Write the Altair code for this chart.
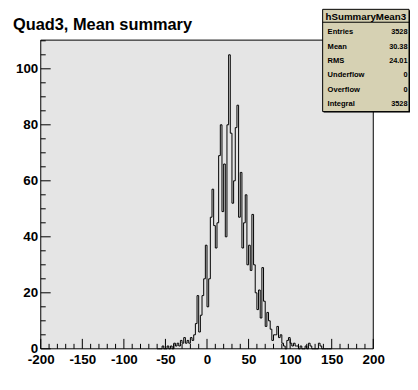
import altair as alt
import pandas as pd

# ---- data (2-unit bins) ----
first_edge = -60
bin_width = 2
left_counts = [0, 0, 0, 1, 0, 0, 1, 0, 1, 0, 2, 1, 2, 1, 3, 2, 4, 2, 3, 2, 4, 3, 5]
core_counts = [9, 19, 6, 12, 19, 25, 37, 15, 25, 47, 57, 44, 36, 45, 69, 80, 49, 66, 40, 80,
               105, 77, 52, 60, 79, 87, 47, 63, 36, 45, 55, 30, 37, 28, 48, 30, 20, 14, 21, 11,
               29, 17, 8, 13, 10, 7, 3, 5, 5, 8, 4, 5, 2, 1, 0, 3, 4, 2, 1, 2,
               1, 1, 0, 1, 0, 0, 1, 0, 2, 1, 0, 0, 0, 0, 2, 1, 0, 0, 0, 0, 0, 0]
counts = left_counts + core_counts
edges = [first_edge + bin_width * i for i in range(len(counts))]

x_major = list(range(-200, 201, 50))
x_minor = [v for v in range(-190, 200, 10) if v % 50 != 0]
y_major = [0, 20, 40, 60, 80, 100]
y_minor = [v for v in range(5, 111, 5) if v % 20 != 0]
Y_MAX = 110.25

title_text = "Quad3, Mean summary"
stats_name = "hSummaryMean3"
stat_labels = ["Entries", "Mean", "RMS", "Underflow", "Overflow", "Integral"]
stat_values = ["3528", "30.38", "24.01", "0", "0", "3528"]

# ---- layout ----
W, H = 335, 311
FONT = "Liberation Sans"
BG = "#e5e5e5"
BOX = "#d6d1b3"

xscale = alt.Scale(domain=[-200, 200], nice=False, zero=False)
yscale = alt.Scale(domain=[0, Y_MAX], nice=False, zero=True)

axis_common = dict(
    ticks=False, domain=False, grid=False, title=None,
    labelFont=FONT, labelFontWeight="bold", labelFontSize=13.5, labelColor="black",
    labelOverlap=False,
)
x_axis = alt.Axis(values=x_major, labelExpr="'' + datum.value",
                  labelFlush=False, labelPadding=4, **axis_common)
y_axis = alt.Axis(values=y_major, labelExpr="'' + datum.value",
                  labelPadding=3, **axis_common)

hist_df = pd.DataFrame({"x": edges + [edges[-1] + bin_width], "n": counts + [0]})
one = pd.DataFrame({"a": [0]})

frame = alt.Chart(one).mark_rect(fill=BG, stroke="black", strokeWidth=1).encode(
    x=alt.value(0), x2=alt.value(W), y=alt.value(0), y2=alt.value(H)
)

hist = alt.Chart(hist_df).mark_line(
    interpolate="step-after", color="black", strokeWidth=1
).encode(
    x=alt.X("x:Q", scale=xscale, axis=x_axis),
    y=alt.Y("n:Q", scale=yscale, axis=y_axis),
)

xmin_ticks = alt.Chart(pd.DataFrame({"x": x_minor})).mark_rule(color="black", strokeWidth=1).encode(
    x=alt.X("x:Q", scale=xscale, axis=x_axis), y=alt.value(H), y2=alt.value(H - 5)
)
xmaj_ticks = alt.Chart(pd.DataFrame({"x": x_major})).mark_rule(color="black", strokeWidth=1).encode(
    x=alt.X("x:Q", scale=xscale, axis=x_axis), y=alt.value(H), y2=alt.value(H - 10)
)
ymin_ticks = alt.Chart(pd.DataFrame({"n": y_minor})).mark_rule(color="black", strokeWidth=1).encode(
    y=alt.Y("n:Q", scale=yscale, axis=y_axis), x=alt.value(0), x2=alt.value(5)
)
ymaj_ticks = alt.Chart(pd.DataFrame({"n": y_major})).mark_rule(color="black", strokeWidth=1).encode(
    y=alt.Y("n:Q", scale=yscale, axis=y_axis), x=alt.value(0), x2=alt.value(10)
)

title = alt.Chart(one).mark_text(
    text=title_text, font=FONT, fontWeight="bold", fontSize=16.5,
    align="left", baseline="alphabetic", color="black"
).encode(x=alt.value(-28), y=alt.value(-10))

# stats box
BX0, BX1, BY0, BY1 = 284, 371, -31, 72
shadow = alt.Chart(one).mark_rect(fill="black").encode(
    x=alt.value(BX0 + 1), x2=alt.value(BX1 + 1), y=alt.value(BY0 + 1), y2=alt.value(BY1 + 1)
)
box = alt.Chart(one).mark_rect(fill=BOX, stroke="black", strokeWidth=1).encode(
    x=alt.value(BX0), x2=alt.value(BX1), y=alt.value(BY0), y2=alt.value(BY1)
)
sep = alt.Chart(one).mark_rule(color="black", strokeWidth=1).encode(
    x=alt.value(BX0), x2=alt.value(BX1), y=alt.value(-18)
)
box_title = alt.Chart(one).mark_text(
    text=stats_name, font=FONT, fontWeight="bold", fontSize=9.8,
    align="center", baseline="alphabetic", color="black"
).encode(x=alt.value((BX0 + BX1) / 2), y=alt.value(-20.5))

row_layers = []
for i, (lab, val) in enumerate(zip(stat_labels, stat_values)):
    yy = -6 + 14.5 * i
    row_layers.append(alt.Chart(one).mark_text(
        text=lab, font=FONT, fontWeight="bold", fontSize=7.6,
        align="left", baseline="alphabetic", color="black"
    ).encode(x=alt.value(289), y=alt.value(yy)))
    row_layers.append(alt.Chart(one).mark_text(
        text=val, font=FONT, fontWeight="bold", fontSize=7.4,
        align="right", baseline="alphabetic", color="black"
    ).encode(x=alt.value(369.5), y=alt.value(yy)))

chart = alt.layer(
    frame, hist, xmin_ticks, xmaj_ticks, ymin_ticks, ymaj_ticks,
    shadow, box, sep, box_title, *row_layers, title
).properties(
    width=W, height=H,
    autosize=alt.AutoSizeParams(type="none"),
    padding={"left": 33, "top": 31, "right": 37, "bottom": 20},
    background="white",
).configure_view(strokeWidth=0)

chart.save("out.html", embed_options={"renderer": "svg", "actions": False})
